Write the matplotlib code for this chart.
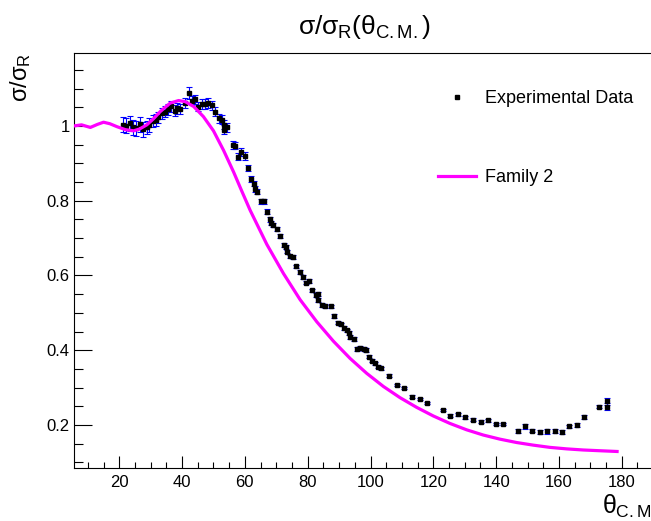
import numpy as np
import matplotlib
matplotlib.use('Agg')
import matplotlib.pyplot as plt
from matplotlib.lines import Line2D
from matplotlib.ticker import MultipleLocator, FuncFormatter

# experimental points (theta C.M. in deg, sigma/sigma_R)
theta_exp = [21.2, 22.1, 23.3, 24.4, 25.3, 26.5, 27.7, 28.8, 29.6, 30.7,
             31.8, 32.5, 33.6, 34.6, 35.5, 36.5, 37.8, 38.5, 39.4, 41.0,
             42.1, 43.1, 44.2, 45.2, 46.3, 47.4, 48.2, 49.5, 50.6, 51.8,
             52.7, 53.2, 53.5, 54.3, 56.1, 56.9, 57.8, 58.7, 59.9, 61.0,
             61.9, 63.0, 63.1, 64.0, 65.2, 66.1, 67.1, 68.1, 68.3, 69.1,
             70.2, 71.2, 72.3, 73.1, 73.4, 74.4, 75.3, 76.3, 77.4, 78.5,
             79.5, 80.4, 81.4, 82.5, 83.3, 83.4, 84.5, 85.6, 87.5, 88.5,
             89.5, 90.6, 91.6, 92.5, 93.3, 93.5, 94.6, 95.6, 96.7, 97.8,
             98.6, 99.6, 100.4, 101.5, 102.5, 103.4, 105.9, 108.4, 110.7, 113.1,
             115.6, 118.1, 123.0, 125.3, 127.8, 130.2, 132.5, 135.1, 137.3, 139.9,
             142.1, 146.9, 149.2, 151.5, 154.0, 156.3, 158.8, 161.1, 163.3, 165.7,
             168.1, 172.8, 175.2, 175.2]
sig_exp = [1.003, 1.000, 1.007, 0.996, 0.994, 1.005, 0.991, 0.996, 1.003, 1.012,
           1.016, 1.023, 1.034, 1.038, 1.045, 1.053, 1.041, 1.047, 1.045, 1.061,
           1.087, 1.068, 1.071, 1.052, 1.059, 1.058, 1.062, 1.056, 1.038, 1.021,
           1.016, 1.003, 0.990, 0.996, 0.949, 0.947, 0.918, 0.930, 0.920, 0.887,
           0.857, 0.845, 0.831, 0.824, 0.798, 0.798, 0.771, 0.750, 0.740, 0.735,
           0.724, 0.706, 0.682, 0.676, 0.664, 0.651, 0.649, 0.624, 0.610, 0.595,
           0.581, 0.586, 0.560, 0.548, 0.551, 0.535, 0.521, 0.519, 0.517, 0.492,
           0.474, 0.469, 0.460, 0.453, 0.446, 0.435, 0.430, 0.404, 0.406, 0.404,
           0.400, 0.382, 0.372, 0.365, 0.356, 0.352, 0.332, 0.306, 0.299, 0.276,
           0.270, 0.259, 0.241, 0.225, 0.229, 0.221, 0.214, 0.209, 0.212, 0.203,
           0.203, 0.184, 0.196, 0.185, 0.181, 0.183, 0.184, 0.181, 0.196, 0.200,
           0.221, 0.249, 0.263, 0.249]
err_exp = [0.020, 0.020, 0.020, 0.020, 0.020, 0.020, 0.020, 0.018, 0.018, 0.016,
           0.016, 0.015, 0.015, 0.015, 0.015, 0.015, 0.015, 0.014, 0.014, 0.014,
           0.016, 0.013, 0.013, 0.013, 0.013, 0.013, 0.013, 0.012, 0.012, 0.012,
           0.012, 0.012, 0.012, 0.012, 0.010, 0.010, 0.010, 0.010, 0.010, 0.008,
           0.008, 0.007, 0.007, 0.007, 0.006, 0.006, 0.006, 0.006, 0.006, 0.006,
           0.006, 0.005, 0.005, 0.005, 0.005, 0.005, 0.005, 0.005, 0.005, 0.005,
           0.005, 0.005, 0.005, 0.005, 0.005, 0.005, 0.005, 0.005, 0.005, 0.005,
           0.005, 0.005, 0.005, 0.005, 0.005, 0.005, 0.005, 0.005, 0.005, 0.005,
           0.005, 0.004, 0.004, 0.004, 0.004, 0.004, 0.003, 0.003, 0.003, 0.004,
           0.003, 0.003, 0.003, 0.004, 0.004, 0.004, 0.004, 0.004, 0.003, 0.003,
           0.003, 0.006, 0.006, 0.004, 0.005, 0.007, 0.006, 0.006, 0.005, 0.005,
           0.006, 0.004, 0.010, 0.010]

# Family 2 calculation
theta_fam = [5.6, 8.0, 10.8, 13.0, 15.0, 17.0, 19.3, 22.0, 24.6, 26.5,
             28.8, 31.0, 33.0, 36.2, 38.9, 41.0, 43.7, 46.8, 50.0, 53.2,
             56.4, 59.0, 61.7, 67.0, 72.3, 77.6, 82.9, 88.2, 93.5, 98.8,
             104.1, 109.4, 114.7, 120.0, 125.3, 130.6, 135.9, 141.2, 146.5, 151.8,
             157.1, 162.4, 167.7, 173.0, 178.5]
sig_fam = [1.000, 1.003, 0.996, 1.004, 1.010, 1.006, 0.998, 0.990, 0.987, 0.992,
           1.003, 1.020, 1.038, 1.061, 1.068, 1.065, 1.052, 1.025, 0.987, 0.935,
           0.877, 0.826, 0.774, 0.683, 0.605, 0.535, 0.476, 0.424, 0.378, 0.338,
           0.303, 0.273, 0.247, 0.224, 0.204, 0.187, 0.173, 0.162, 0.153, 0.146,
           0.140, 0.136, 0.133, 0.131, 0.129]

plt.rcParams['font.family'] = ['Liberation Sans', 'DejaVu Sans']
plt.rcParams['mathtext.fontset'] = 'custom'
plt.rcParams['mathtext.rm'] = 'Liberation Sans'
plt.rcParams['mathtext.it'] = 'Liberation Sans'
plt.rcParams['mathtext.bf'] = 'Liberation Sans'

fig = plt.figure(figsize=(6.51, 5.21), dpi=100, facecolor='w')
ax = fig.add_axes([74 / 651, 1 - 468.3 / 521, 1 - 74 / 651, (468.3 - 52.7) / 521])

ax.errorbar(theta_exp, sig_exp, yerr=err_exp, fmt='none', ecolor='#0000ff',
            elinewidth=0.8, capsize=2, capthick=0.8, zorder=2)
ax.plot(theta_exp, sig_exp, ls='none', marker='s', ms=3.2, color='k', zorder=3)
ax.plot(theta_fam, sig_fam, color='#ff00ff', lw=2.3, zorder=4)

ax.set_xlim(5.6, 189.3)
ax.set_ylim(0.084, 1.196)
ax.xaxis.set_major_locator(MultipleLocator(20))
ax.xaxis.set_minor_locator(MultipleLocator(5))
ax.yaxis.set_major_locator(MultipleLocator(0.2))
ax.yaxis.set_minor_locator(MultipleLocator(0.05))
ax.yaxis.set_major_formatter(FuncFormatter(lambda v, p: '%g' % round(v, 2)))
ax.tick_params(axis='x', which='major', direction='in', length=8.4, width=0.8,
               labelsize=12, pad=5, top=False)
ax.tick_params(axis='x', which='minor', direction='in', length=4.1, width=0.8, top=False)
ax.tick_params(axis='y', which='major', direction='in', length=12.7, width=0.8,
               labelsize=12, pad=3, right=False)
ax.tick_params(axis='y', which='minor', direction='in', length=6.3, width=0.8, right=False)
ax.spines['right'].set_visible(False)
for s in ['left', 'top', 'bottom']:
    ax.spines[s].set_linewidth(0.8)

ax.set_xlabel(r'$\theta_{C.M}$', fontsize=18, loc='right', labelpad=2)
ax.set_ylabel(r'$\sigma/\sigma_{R}$', fontsize=17, loc='top', labelpad=10)

fig.text(364 / 651, 1 - 27 / 521, r'$\sigma/\sigma_{R}(\theta_{C.M.})$',
         fontsize=19, ha='center', va='center')

handles = [Line2D([], [], ls='none', marker='s', ms=2.5, color='k'),
           Line2D([], [], color='#ff00ff', lw=2.3)]
ax.legend(handles, ['Experimental Data', 'Family 2'], frameon=False, fontsize=13,
          loc='upper left', bbox_to_anchor=(438 / 651, 1 - 90 / 521),
          bbox_transform=fig.transFigure, borderpad=0, borderaxespad=0,
          handlelength=2.1, handletextpad=0.5, labelspacing=3.45)

fig.savefig('out.png', dpi=100)
